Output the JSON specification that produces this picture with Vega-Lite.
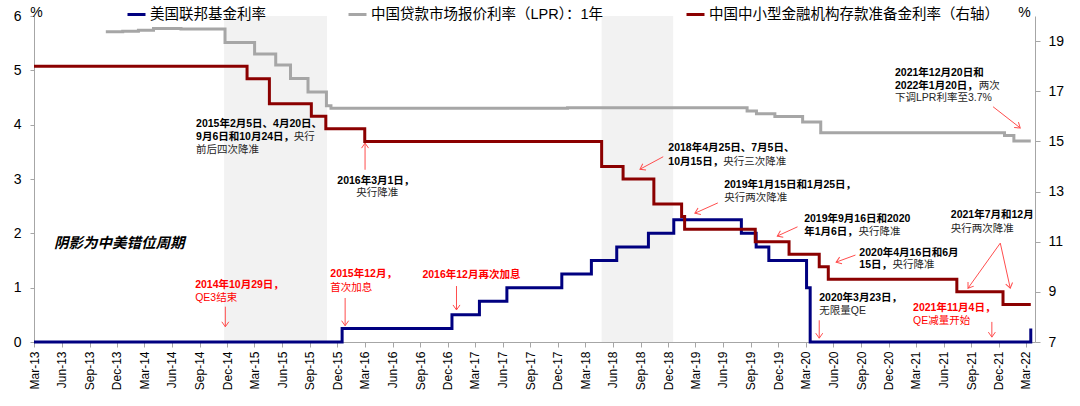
{
  "$schema": "https://vega.github.io/schema/vega-lite/v6.json",
  "width": 1001,
  "height": 326,
  "autosize": {"type": "none"},
  "padding": {"left": 34, "top": 16, "right": 45, "bottom": 64},
  "background": "white",
  "config": {
    "view": {"stroke": null},
    "font": "Liberation Sans, Noto Sans CJK SC, sans-serif",
    "axis": {"labelFont": "Liberation Sans, Noto Sans CJK SC", "titleFont": "Liberation Sans, Noto Sans CJK SC", "labelColor": "#000000", "titleColor": "#000000", "domainColor": "#A6A6A6", "tickColor": "#A6A6A6", "grid": false}
  },
  "encoding": {
    "x": {
      "field": "date",
      "type": "temporal",
      "scale": {"type": "utc", "domain": [{"year": 2013, "month": 3, "date": 1, "utc": true}, {"year": 2022, "month": 3, "date": 31, "utc": true}]},
      "axis": {
        "title": null,
        "format": "%b-%y",
        "labelAngle": 270,
        "labelFontSize": 12,
        "labelPadding": 4,
        "tickSize": 5,
        "labelFlush": false,
        "labelOverlap": false,
        "labelBound": false,
        "values": [
          {"year": 2013, "month": 3, "date": 1, "utc": true}, {"year": 2013, "month": 6, "date": 1, "utc": true}, {"year": 2013, "month": 9, "date": 1, "utc": true}, {"year": 2013, "month": 12, "date": 1, "utc": true},
          {"year": 2014, "month": 3, "date": 1, "utc": true}, {"year": 2014, "month": 6, "date": 1, "utc": true}, {"year": 2014, "month": 9, "date": 1, "utc": true}, {"year": 2014, "month": 12, "date": 1, "utc": true},
          {"year": 2015, "month": 3, "date": 1, "utc": true}, {"year": 2015, "month": 6, "date": 1, "utc": true}, {"year": 2015, "month": 9, "date": 1, "utc": true}, {"year": 2015, "month": 12, "date": 1, "utc": true},
          {"year": 2016, "month": 3, "date": 1, "utc": true}, {"year": 2016, "month": 6, "date": 1, "utc": true}, {"year": 2016, "month": 9, "date": 1, "utc": true}, {"year": 2016, "month": 12, "date": 1, "utc": true},
          {"year": 2017, "month": 3, "date": 1, "utc": true}, {"year": 2017, "month": 6, "date": 1, "utc": true}, {"year": 2017, "month": 9, "date": 1, "utc": true}, {"year": 2017, "month": 12, "date": 1, "utc": true},
          {"year": 2018, "month": 3, "date": 1, "utc": true}, {"year": 2018, "month": 6, "date": 1, "utc": true}, {"year": 2018, "month": 9, "date": 1, "utc": true}, {"year": 2018, "month": 12, "date": 1, "utc": true},
          {"year": 2019, "month": 3, "date": 1, "utc": true}, {"year": 2019, "month": 6, "date": 1, "utc": true}, {"year": 2019, "month": 9, "date": 1, "utc": true}, {"year": 2019, "month": 12, "date": 1, "utc": true},
          {"year": 2020, "month": 3, "date": 1, "utc": true}, {"year": 2020, "month": 6, "date": 1, "utc": true}, {"year": 2020, "month": 9, "date": 1, "utc": true}, {"year": 2020, "month": 12, "date": 1, "utc": true},
          {"year": 2021, "month": 3, "date": 1, "utc": true}, {"year": 2021, "month": 6, "date": 1, "utc": true}, {"year": 2021, "month": 9, "date": 1, "utc": true}, {"year": 2021, "month": 12, "date": 1, "utc": true},
          {"year": 2022, "month": 3, "date": 1, "utc": true}
        ]
      }
    }
  },
  "layer": [
    {
      "data": {"values": [
        {"date": "2014-11-21", "date2": "2015-10-28"},
        {"date": "2018-04-25", "date2": "2018-12-18"}
      ]},
      "mark": {"type": "rect", "color": "#F2F2F2"},
      "encoding": {"x2": {"field": "date2"}}
    },
    {
      "encoding": {
        "y": {
          "field": "v",
          "type": "quantitative",
          "scale": {"domain": [0, 6], "nice": false, "zero": false},
          "axis": {"orient": "left", "values": [0, 1, 2, 3, 4, 5, 6], "title": "%", "titleAngle": 0, "titleX": 2, "titleY": -4, "titleAlign": "center", "titleBaseline": "middle", "titleFontWeight": "normal", "titleFontSize": 14, "tickSize": 4, "labelPadding": 9, "labelFontSize": 14, "labelFlush": false}
        }
      },
      "layer": [
        {
          "data": {"values": [
            {"series": "中国贷款市场报价利率（LPR）：1年", "date": "2013-10-25", "v": 5.71},
            {"series": "中国贷款市场报价利率（LPR）：1年", "date": "2013-12-20", "v": 5.72},
            {"series": "中国贷款市场报价利率（LPR）：1年", "date": "2014-02-10", "v": 5.74},
            {"series": "中国贷款市场报价利率（LPR）：1年", "date": "2014-04-01", "v": 5.77},
            {"series": "中国贷款市场报价利率（LPR）：1年", "date": "2014-07-01", "v": 5.76},
            {"series": "中国贷款市场报价利率（LPR）：1年", "date": "2014-11-24", "v": 5.51},
            {"series": "中国贷款市场报价利率（LPR）：1年", "date": "2015-03-02", "v": 5.30},
            {"series": "中国贷款市场报价利率（LPR）：1年", "date": "2015-05-11", "v": 5.10},
            {"series": "中国贷款市场报价利率（LPR）：1年", "date": "2015-06-29", "v": 4.85},
            {"series": "中国贷款市场报价利率（LPR）：1年", "date": "2015-08-26", "v": 4.60},
            {"series": "中国贷款市场报价利率（LPR）：1年", "date": "2015-10-26", "v": 4.35},
            {"series": "中国贷款市场报价利率（LPR）：1年", "date": "2015-11-10", "v": 4.30},
            {"series": "中国贷款市场报价利率（LPR）：1年", "date": "2018-01-02", "v": 4.31},
            {"series": "中国贷款市场报价利率（LPR）：1年", "date": "2019-08-20", "v": 4.25},
            {"series": "中国贷款市场报价利率（LPR）：1年", "date": "2019-09-20", "v": 4.20},
            {"series": "中国贷款市场报价利率（LPR）：1年", "date": "2019-11-20", "v": 4.15},
            {"series": "中国贷款市场报价利率（LPR）：1年", "date": "2020-02-20", "v": 4.05},
            {"series": "中国贷款市场报价利率（LPR）：1年", "date": "2020-04-20", "v": 3.85},
            {"series": "中国贷款市场报价利率（LPR）：1年", "date": "2021-12-20", "v": 3.80},
            {"series": "中国贷款市场报价利率（LPR）：1年", "date": "2022-01-20", "v": 3.70},
            {"series": "中国贷款市场报价利率（LPR）：1年", "date": "2022-03-17", "v": 3.70},
            {"series": "美国联邦基金利率", "date": "2013-03-01", "v": 0},
            {"series": "美国联邦基金利率", "date": "2015-12-17", "v": 0.25},
            {"series": "美国联邦基金利率", "date": "2016-12-15", "v": 0.5},
            {"series": "美国联邦基金利率", "date": "2017-03-16", "v": 0.75},
            {"series": "美国联邦基金利率", "date": "2017-06-15", "v": 1.0},
            {"series": "美国联邦基金利率", "date": "2017-12-14", "v": 1.25},
            {"series": "美国联邦基金利率", "date": "2018-03-22", "v": 1.5},
            {"series": "美国联邦基金利率", "date": "2018-06-14", "v": 1.75},
            {"series": "美国联邦基金利率", "date": "2018-09-27", "v": 2.0},
            {"series": "美国联邦基金利率", "date": "2018-12-20", "v": 2.25},
            {"series": "美国联邦基金利率", "date": "2019-08-01", "v": 2.0},
            {"series": "美国联邦基金利率", "date": "2019-09-19", "v": 1.75},
            {"series": "美国联邦基金利率", "date": "2019-10-31", "v": 1.5},
            {"series": "美国联邦基金利率", "date": "2020-03-04", "v": 1.0},
            {"series": "美国联邦基金利率", "date": "2020-03-16", "v": 0},
            {"series": "美国联邦基金利率", "date": "2022-03-17", "v": 0.25}
          ]},
          "mark": {"type": "line", "interpolate": "step-after", "strokeWidth": 3},
          "encoding": {
            "color": {
              "field": "series",
              "type": "nominal",
              "scale": {"domain": ["美国联邦基金利率", "中国贷款市场报价利率（LPR）：1年", "中国中小型金融机构存款准备金利率（右轴）"], "range": ["#000080", "#A6A6A6", "#8B0000"]},
              "legend": {"orient": "none", "legendX": 92, "legendY": -12, "direction": "horizontal", "title": null, "symbolType": "stroke", "symbolSize": 324, "symbolStrokeWidth": 3, "labelFontSize": 14.5, "labelFont": "Liberation Sans, Noto Sans CJK SC", "labelColor": "#000000", "columnPadding": 76, "labelOffset": 3, "padding": 0, "labelLimit": 400}
            },
            "order": {"field": "date", "type": "temporal"}
          }
        },
        {
          "data": {"name": "arrows", "values": [
            {"date": "2016-03-02", "v": 3.66, "date2": "2016-03-02", "v2": 3.17, "ang": 270},
            {"date": "2018-08-30", "v": 3.18, "date2": "2018-11-15", "v2": 3.41, "ang": 152},
            {"date": "2019-02-28", "v": 2.37, "date2": "2019-05-15", "v2": 2.56, "ang": 156},
            {"date": "2019-11-28", "v": 1.95, "date2": "2020-02-03", "v2": 2.12, "ang": 156},
            {"date": "2020-06-10", "v": 1.47, "date2": "2020-08-13", "v2": 1.60, "ang": 160},
            {"date": "2020-04-15", "v": 0.07, "date2": "2020-04-15", "v2": 0.40, "ang": 90},
            {"date": "2021-11-08", "v": 0.09, "date2": "2021-11-08", "v2": 0.37, "ang": 90},
            {"date": "2021-08-21", "v": 0.99, "date2": "2021-12-06", "v2": 1.82, "ang": 125},
            {"date": "2022-01-08", "v": 0.99, "date2": "2021-12-06", "v2": 1.82, "ang": 77},
            {"date": "2022-02-10", "v": 3.94, "date2": "2021-11-12", "v2": 4.33, "ang": 38},
            {"date": "2014-11-25", "v": 0.28, "date2": "2014-11-25", "v2": 0.65, "ang": 90},
            {"date": "2015-12-27", "v": 0.30, "date2": "2015-12-27", "v2": 0.81, "ang": 90},
            {"date": "2016-12-30", "v": 0.59, "date2": "2016-12-30", "v2": 1.03, "ang": 90}
          ]},
          "mark": {"type": "rule", "color": "#FF4D4D", "strokeWidth": 1},
          "encoding": {"x2": {"field": "date2"}, "y2": {"field": "v2"}}
        },
        {
          "data": {"name": "arrows"},
          "mark": {"type": "point", "shape": "M-1,-0.7L0,0L-1,0.7", "filled": false, "stroke": "#FF4D4D", "strokeWidth": 1, "size": 100, "opacity": 1},
          "encoding": {"angle": {"field": "ang", "type": "quantitative", "scale": null}}
        },
        {
          "data": {"values": [
            {"date": "2014-08-20", "v": 4.01, "t": "2015年2月5日、4月20日、"},
            {"date": "2014-08-20", "v": 3.77, "t": "9月6日和10月24日，"},
            {"date": "2015-12-01", "v": 2.96, "t": "2016年3月1日，"},
            {"date": "2018-12-02", "v": 3.57, "t": "2018年4月25日、7月5日、"},
            {"date": "2018-12-02", "v": 3.31, "t": "10月15日，"},
            {"date": "2019-06-05", "v": 2.89, "t": "2019年1月15日和1月25日，"},
            {"date": "2020-02-25", "v": 2.26, "t": "2019年9月16日和2020"},
            {"date": "2020-02-25", "v": 2.02, "t": "年1月6日，"},
            {"date": "2020-08-26", "v": 1.64, "t": "2020年4月16日和6月"},
            {"date": "2020-08-26", "v": 1.42, "t": "15日，"},
            {"date": "2020-04-15", "v": 0.81, "t": "2020年3月23日，"},
            {"date": "2021-06-25", "v": 2.34, "t": "2021年7月和12月"},
            {"date": "2020-12-22", "v": 4.95, "t": "2021年12月20日和"},
            {"date": "2020-12-22", "v": 4.71, "t": "2022年1月20日，"}
          ]},
          "mark": {"type": "text", "align": "left", "baseline": "middle", "fontSize": 10.5, "fontWeight": "bold", "color": "#000000", "font": "Liberation Sans, Noto Sans CJK SC"},
          "encoding": {"text": {"field": "t"}}
        },
        {
          "data": {"values": [
            {"date": "2015-07-10", "v": 3.77, "t": "央行"},
            {"date": "2014-08-20", "v": 3.53, "t": "前后四次降准"},
            {"date": "2016-02-02", "v": 2.74, "t": "央行降准"},
            {"date": "2019-06-02", "v": 3.31, "t": "央行三次降准"},
            {"date": "2019-06-05", "v": 2.65, "t": "央行两次降准"},
            {"date": "2020-08-23", "v": 2.02, "t": "央行降准"},
            {"date": "2020-12-14", "v": 1.42, "t": "央行降准"},
            {"date": "2020-04-15", "v": 0.57, "t": "无限量QE"},
            {"date": "2021-06-25", "v": 2.08, "t": "央行两次降准"},
            {"date": "2021-09-26", "v": 4.71, "t": "两次"},
            {"date": "2020-12-22", "v": 4.49, "t": "下调LPR利率至3.7%"}
          ]},
          "mark": {"type": "text", "align": "left", "baseline": "middle", "fontSize": 10.5, "fontWeight": "normal", "color": "#262626", "font": "Liberation Sans, Noto Sans CJK SC"},
          "encoding": {"text": {"field": "t"}}
        },
        {
          "data": {"values": [
            {"date": "2014-08-17", "v": 1.05, "t": "2014年10月29日，"},
            {"date": "2015-11-08", "v": 1.26, "t": "2015年12月，"},
            {"date": "2016-09-08", "v": 1.23, "t": "2016年12月再次加息"},
            {"date": "2021-02-20", "v": 0.63, "t": "2021年11月4日，"}
          ]},
          "mark": {"type": "text", "align": "left", "baseline": "middle", "fontSize": 10.5, "fontWeight": "bold", "color": "#FF0000", "font": "Liberation Sans, Noto Sans CJK SC"},
          "encoding": {"text": {"field": "t"}}
        },
        {
          "data": {"values": [
            {"date": "2014-08-17", "v": 0.81, "t": "QE3结束"},
            {"date": "2015-11-08", "v": 1.0, "t": "首次加息"},
            {"date": "2021-02-20", "v": 0.39, "t": "QE减量开始"}
          ]},
          "mark": {"type": "text", "align": "left", "baseline": "middle", "fontSize": 10.5, "fontWeight": "normal", "color": "#FF0000", "font": "Liberation Sans, Noto Sans CJK SC"},
          "encoding": {"text": {"field": "t"}}
        },
        {
          "data": {"values": [
            {"date": "2013-05-06", "v": 1.80, "t": "阴影为中美错位周期"}
          ]},
          "mark": {"type": "text", "align": "left", "baseline": "middle", "fontSize": 14.5, "fontWeight": "bold", "fontStyle": "italic", "color": "#000000", "font": "Liberation Sans, Noto Sans CJK SC"},
          "encoding": {"text": {"field": "t"}}
        }
      ]
    },
    {
      "data": {"values": [
        {"series": "中国中小型金融机构存款准备金利率（右轴）", "date": "2013-03-01", "v": 18.0},
        {"series": "中国中小型金融机构存款准备金利率（右轴）", "date": "2015-02-05", "v": 17.5},
        {"series": "中国中小型金融机构存款准备金利率（右轴）", "date": "2015-04-20", "v": 16.5},
        {"series": "中国中小型金融机构存款准备金利率（右轴）", "date": "2015-09-06", "v": 16.0},
        {"series": "中国中小型金融机构存款准备金利率（右轴）", "date": "2015-10-24", "v": 15.5},
        {"series": "中国中小型金融机构存款准备金利率（右轴）", "date": "2016-03-01", "v": 15.0},
        {"series": "中国中小型金融机构存款准备金利率（右轴）", "date": "2018-04-25", "v": 14.0},
        {"series": "中国中小型金融机构存款准备金利率（右轴）", "date": "2018-07-05", "v": 13.5},
        {"series": "中国中小型金融机构存款准备金利率（右轴）", "date": "2018-10-15", "v": 12.5},
        {"series": "中国中小型金融机构存款准备金利率（右轴）", "date": "2019-01-15", "v": 12.0},
        {"series": "中国中小型金融机构存款准备金利率（右轴）", "date": "2019-01-25", "v": 11.5},
        {"series": "中国中小型金融机构存款准备金利率（右轴）", "date": "2019-09-16", "v": 11.0},
        {"series": "中国中小型金融机构存款准备金利率（右轴）", "date": "2020-01-06", "v": 10.5},
        {"series": "中国中小型金融机构存款准备金利率（右轴）", "date": "2020-04-15", "v": 10.0},
        {"series": "中国中小型金融机构存款准备金利率（右轴）", "date": "2020-05-15", "v": 9.5},
        {"series": "中国中小型金融机构存款准备金利率（右轴）", "date": "2021-07-15", "v": 9.0},
        {"series": "中国中小型金融机构存款准备金利率（右轴）", "date": "2021-12-15", "v": 8.5},
        {"series": "中国中小型金融机构存款准备金利率（右轴）", "date": "2022-03-17", "v": 8.5}
      ]},
      "mark": {"type": "line", "interpolate": "step-after", "strokeWidth": 3},
      "encoding": {
        "y": {
          "field": "v",
          "type": "quantitative",
          "scale": {"domain": [7, 20], "nice": false, "zero": false},
          "axis": {"orient": "right", "values": [7, 9, 11, 13, 15, 17, 19], "title": "%", "titleAngle": 0, "titleX": -11, "titleY": -4, "titleAlign": "center", "titleBaseline": "middle", "titleFontWeight": "normal", "titleFontSize": 14, "tickSize": 5, "labelPadding": 8, "labelFontSize": 14, "labelFlush": false}
        },
        "color": {
          "field": "series",
          "type": "nominal",
          "scale": {"domain": ["美国联邦基金利率", "中国贷款市场报价利率（LPR）：1年", "中国中小型金融机构存款准备金利率（右轴）"], "range": ["#000080", "#A6A6A6", "#8B0000"]},
          "legend": {"orient": "none", "legendX": 92, "legendY": -12, "direction": "horizontal", "title": null, "symbolType": "stroke", "symbolSize": 324, "symbolStrokeWidth": 3, "labelFontSize": 14.5, "labelFont": "Liberation Sans, Noto Sans CJK SC", "labelColor": "#000000", "columnPadding": 76, "labelOffset": 3, "padding": 0, "labelLimit": 400}
        },
        "order": {"field": "date", "type": "temporal"}
      }
    }
  ],
  "resolve": {"scale": {"y": "independent"}}
}
